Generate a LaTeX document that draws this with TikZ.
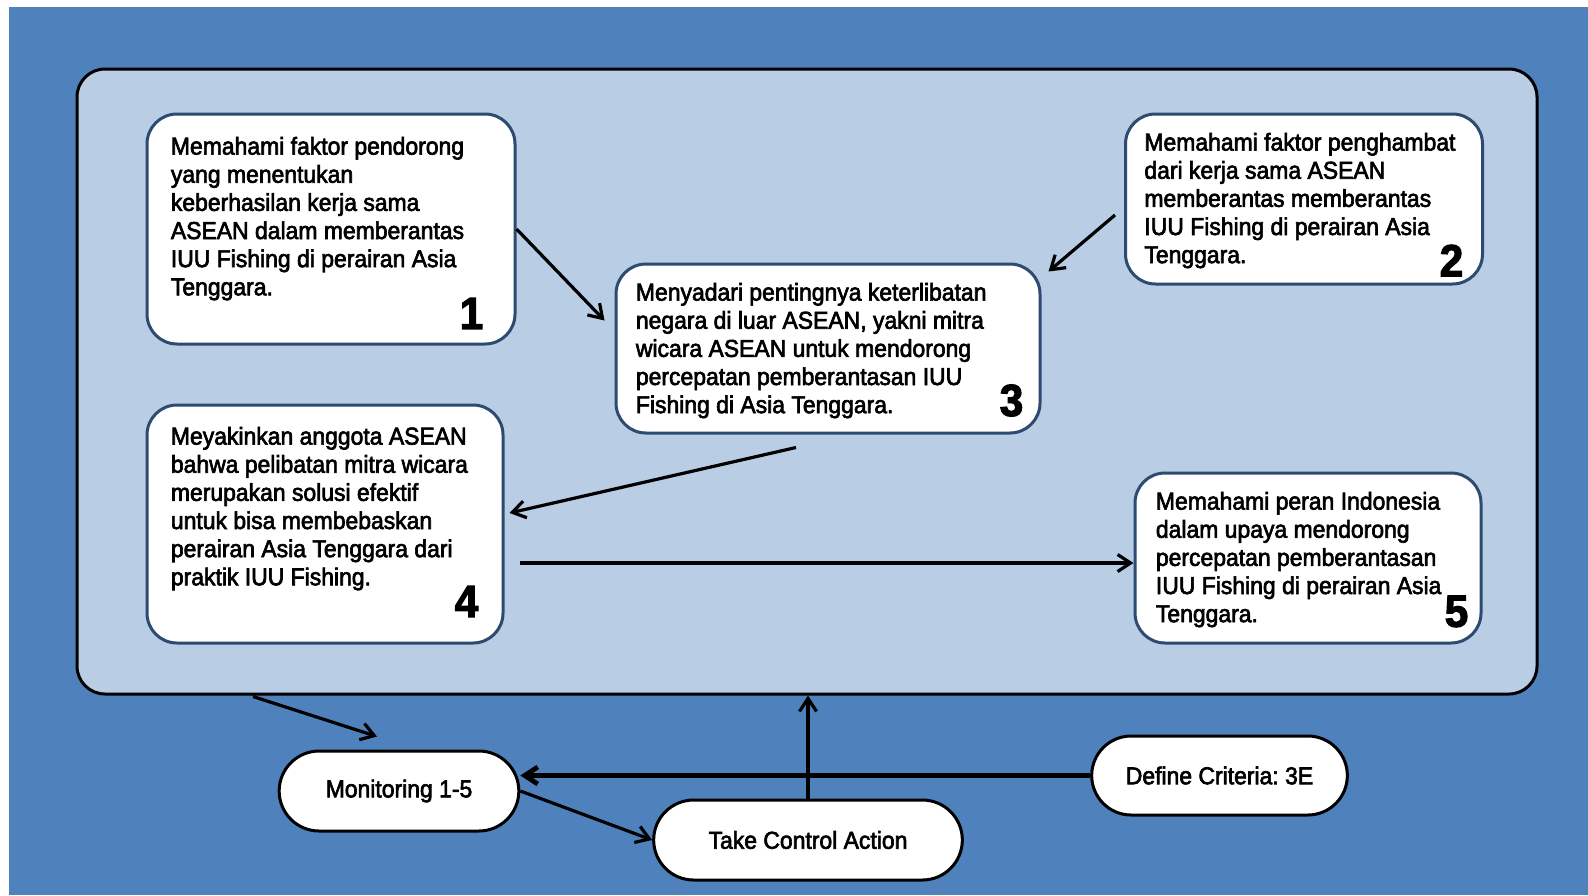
\documentclass[tikz,border=0pt]{standalone}
\usepackage{fontspec}
\setmainfont{Liberation Sans}[FakeStretch=0.94, FakeBold=2.6]
\usetikzlibrary{positioning,calc,shapes.misc,arrows.meta}
\frenchspacing

\definecolor{bgblue}{HTML}{4F81BD}
\definecolor{paleblue}{HTML}{B9CDE5}
\definecolor{boxline}{HTML}{2D4B70}

\begin{document}
\begin{tikzpicture}[
    x=0.5pt, y=-0.5pt,
    frame/.style={rectangle, draw=black, line width=1.5pt, fill=paleblue, rounded corners=14pt, minimum width=730pt, minimum height=312.5pt},
    block/.style={rectangle, draw=boxline, line width=1.5pt, fill=white, rounded corners=15pt},
    blocktext/.style={inner sep=0pt, anchor=north west, align=left, font=\fontsize{12.2}{14.07}\selectfont},
    num/.style={inner sep=0pt, font=\fontsize{22.5}{22.5}\selectfont\bfseries},
    pill/.style={rounded rectangle, draw=black, line width=1.5pt, fill=white, minimum height=40pt, font=\fontsize{12.2}{14.07}\selectfont},
    arrow/.style={line width=1.6pt, -{Straight Barb[length=6.5pt,width=8.5pt]}}
]
    \useasboundingbox (0,0) rectangle (1588,895);
    \fill[white] (0,0) rectangle (1588,895);
    \fill[bgblue] (9,7) rectangle (1588,895);

    \node[frame] (F) at (807, 381.5) {};

    % boxes 1-5
    \node[block, minimum width=184pt, minimum height=115pt] (B1) at (331, 229) {};
    \node[block, minimum width=178.5pt, minimum height=85pt] (B2) at (1304, 199) {};
    \node[block, minimum width=212pt, minimum height=84.5pt] (B3) at (828, 348.5) {};
    \node[block, minimum width=178pt, minimum height=119pt] (B4) at (325, 524) {};
    \node[block, minimum width=173pt, minimum height=85pt] (B5) at (1308, 558) {};

    \node[blocktext] (T1) at ([shift={(25,24)}]B1.north west) {Memahami faktor pendorong\\yang menentukan\\keberhasilan kerja sama\\ASEAN dalam memberantas\\IUU Fishing di perairan Asia\\Tenggara.};
    \node[blocktext] (T2) at ([shift={(20,20)}]B2.north west) {Memahami faktor penghambat\\dari kerja sama ASEAN\\memberantas memberantas\\IUU Fishing di perairan Asia\\Tenggara.};
    \node[blocktext] (T3) at ([shift={(21,20)}]B3.north west) {Menyadari pentingnya keterlibatan\\negara di luar ASEAN, yakni mitra\\wicara ASEAN untuk mendorong\\percepatan pemberantasan IUU\\Fishing di Asia Tenggara.};
    \node[blocktext] (T4) at ([shift={(25,23)}]B4.north west) {Meyakinkan anggota ASEAN\\bahwa pelibatan mitra wicara\\merupakan solusi efektif\\untuk bisa membebaskan\\perairan Asia Tenggara dari\\praktik IUU Fishing.};
    \node[blocktext] (T5) at ([shift={(22,20)}]B5.north west) {Memahami peran Indonesia\\dalam upaya mendorong\\percepatan pemberantasan\\IUU Fishing di perairan Asia\\Tenggara.};

    \node[num] (N1) at ([shift={(-45,-32)}]B1.south east) {1};
    \node[num] (N2) at ([shift={(-32.5,-25)}]B2.south east) {2};
    \node[num] (N3) at ([shift={(-30,-34)}]B3.south east) {3};
    \node[num] (N4) at ([shift={(-38,-43)}]B4.south east) {4};
    \node[num] (N5) at ([shift={(-26,-33)}]B5.south east) {5};

    % control loop
    \node[pill, minimum width=126.5pt] (M) at (399, 791) {Monitoring 1-5};
    \node[pill, minimum width=161pt] (A) at (808, 840) {Take Control Action};
    \node[pill, minimum width=134.5pt, minimum height=39.5pt] (D) at (1219.5, 775.5) {Define Criteria: 3E};

    \coordinate (S2) at ([shift={(-9,16)}]B2.west);
    \coordinate (S3) at ([shift={(-32,13)}]B3.south);
    \coordinate (S4) at ([shift={(15,39)}]B4.east);
    \coordinate (SF) at ([shift={(-554,1)}]F.south);

    \draw[arrow] (B1.east) -- ([shift={(-10,58)}]B3.north west);
    \draw[arrow] (S2) -- ([shift={(7,9)}]B3.north east);
    \draw[arrow] (S3) -- ([shift={(5,-11)}]B4.east);
    \draw[arrow] (S4) -- (S4 -| B5.west);
    \draw[arrow] (SF) -- ([shift={(-22,-13)}]M.north);
    \draw[arrow, line width=2.4pt] (D.west) -- (D.west -| M.east);
    \draw[arrow] (M.east) -- (A.west);
    \draw[arrow] (A.north) -- (A.north |- F.south);

\end{tikzpicture}
\end{document}
